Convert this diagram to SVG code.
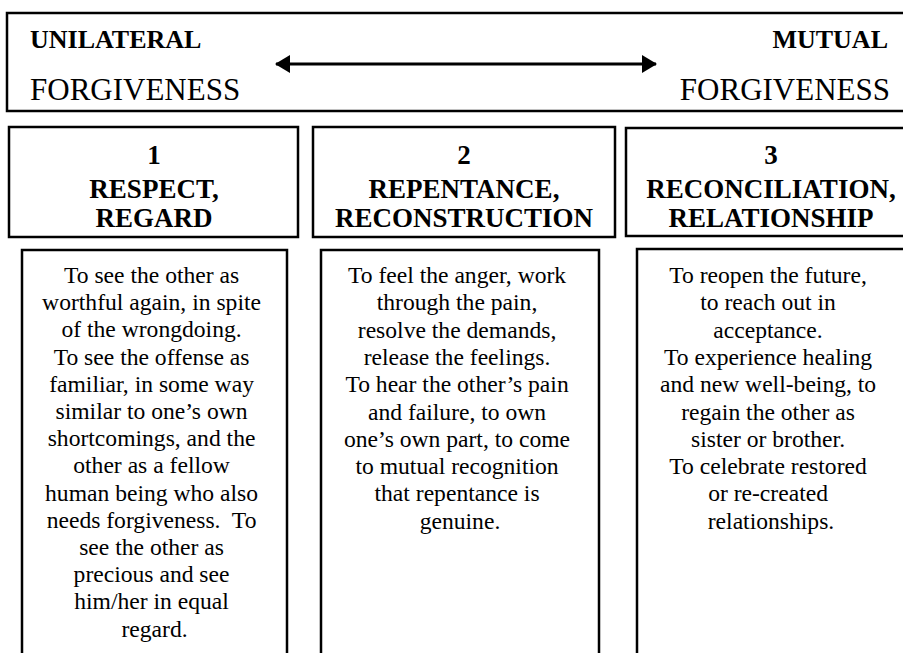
<svg xmlns="http://www.w3.org/2000/svg" width="903" height="653" viewBox="0 0 903 653">
<defs>
<style>
.box{fill:#fff;stroke:#000;stroke-width:2.5}
.lbl{font-family:"Liberation Serif","Times New Roman",serif;fill:#000}
.b26{font-size:26px;font-weight:bold}
.r31{font-size:31px}
.hd{font-size:27px;font-weight:bold;text-anchor:middle}
.bd{font-size:23.6px;text-anchor:middle}
</style>
<marker id="ah" markerUnits="userSpaceOnUse" markerWidth="16" markerHeight="18" refX="14" refY="9" orient="auto-start-reverse">
<path d="M0,0 L15,9 L0,18 Z" fill="#000"/>
</marker>
</defs>
<rect width="903" height="653" fill="#fff"/>
<g id="banner">
<rect class="box" x="7" y="13" width="910" height="98"/>
<text class="lbl b26" x="30" y="48">UNILATERAL</text>
<text class="lbl r31" x="30" y="100">FORGIVENESS</text>
<text class="lbl b26" x="888" y="48" text-anchor="end">MUTUAL</text>
<text class="lbl r31" x="890" y="100" text-anchor="end">FORGIVENESS</text>
</g>
<g id="connectors">
<line x1="276" y1="64" x2="656" y2="64" stroke="#000" stroke-width="3" marker-start="url(#ah)" marker-end="url(#ah)"/>
</g>
<g id="head1">
<rect class="box" x="9" y="127" width="289" height="110"/>
<text class="lbl hd" x="154" y="164">1</text>
<text class="lbl hd" x="154" y="198">RESPECT,</text>
<text class="lbl hd" x="154" y="227">REGARD</text>
</g>
<g id="head2">
<rect class="box" x="313" y="127" width="302" height="110"/>
<text class="lbl hd" x="464" y="164">2</text>
<text class="lbl hd" x="464" y="198">REPENTANCE,</text>
<text class="lbl hd" x="464" y="227">RECONSTRUCTION</text>
</g>
<g id="head3">
<rect class="box" x="626" y="128" width="290" height="108"/>
<text class="lbl hd" x="771" y="164">3</text>
<text class="lbl hd" x="771" y="198">RECONCILIATION,</text>
<text class="lbl hd" x="771" y="227">RELATIONSHIP</text>
</g>
<g id="body1">
<rect class="box" x="22" y="250" width="265" height="420"/>
<text class="lbl bd">
<tspan x="154.5" y="283">To see the other as</tspan>
<tspan x="154.5" dy="27.2">worthful again, in spite</tspan>
<tspan x="154.5" dy="27.2">of the wrongdoing.</tspan>
<tspan x="154.5" dy="27.2">To see the offense as</tspan>
<tspan x="154.5" dy="27.2">familiar, in some way</tspan>
<tspan x="154.5" dy="27.2">similar to one’s own</tspan>
<tspan x="154.5" dy="27.2">shortcomings, and the</tspan>
<tspan x="154.5" dy="27.2">other as a fellow</tspan>
<tspan x="154.5" dy="27.2">human being who also</tspan>
<tspan x="154.5" dy="27.2" xml:space="preserve">needs forgiveness.  To</tspan>
<tspan x="154.5" dy="27.2">see the other as</tspan>
<tspan x="154.5" dy="27.2">precious and see</tspan>
<tspan x="154.5" dy="27.2">him/her in equal</tspan>
<tspan x="154.5" dy="27.2">regard.</tspan>
</text>
</g>
<g id="body2">
<rect class="box" x="321" y="250" width="278" height="420"/>
<text class="lbl bd">
<tspan x="460" y="283">To feel the anger, work</tspan>
<tspan x="460" dy="27.3">through the pain,</tspan>
<tspan x="460" dy="27.3">resolve the demands,</tspan>
<tspan x="460" dy="27.3">release the feelings.</tspan>
<tspan x="460" dy="27.3">To hear the other’s pain</tspan>
<tspan x="460" dy="27.3">and failure, to own</tspan>
<tspan x="460" dy="27.3">one’s own part, to come</tspan>
<tspan x="460" dy="27.3">to mutual recognition</tspan>
<tspan x="460" dy="27.3">that repentance is</tspan>
<tspan x="460" dy="27.3">genuine.</tspan>
</text>
</g>
<g id="body3">
<rect class="box" x="637" y="249" width="268" height="420"/>
<text class="lbl bd">
<tspan x="771" y="283">To reopen the future,</tspan>
<tspan x="771" dy="27.3">to reach out in</tspan>
<tspan x="771" dy="27.3">acceptance.</tspan>
<tspan x="771" dy="27.3">To experience healing</tspan>
<tspan x="771" dy="27.3">and new well-being, to</tspan>
<tspan x="771" dy="27.3">regain the other as</tspan>
<tspan x="771" dy="27.3">sister or brother.</tspan>
<tspan x="771" dy="27.3">To celebrate restored</tspan>
<tspan x="771" dy="27.3">or re-created</tspan>
<tspan x="771" dy="27.3">relationships.</tspan>
</text>
</g>
</svg>
